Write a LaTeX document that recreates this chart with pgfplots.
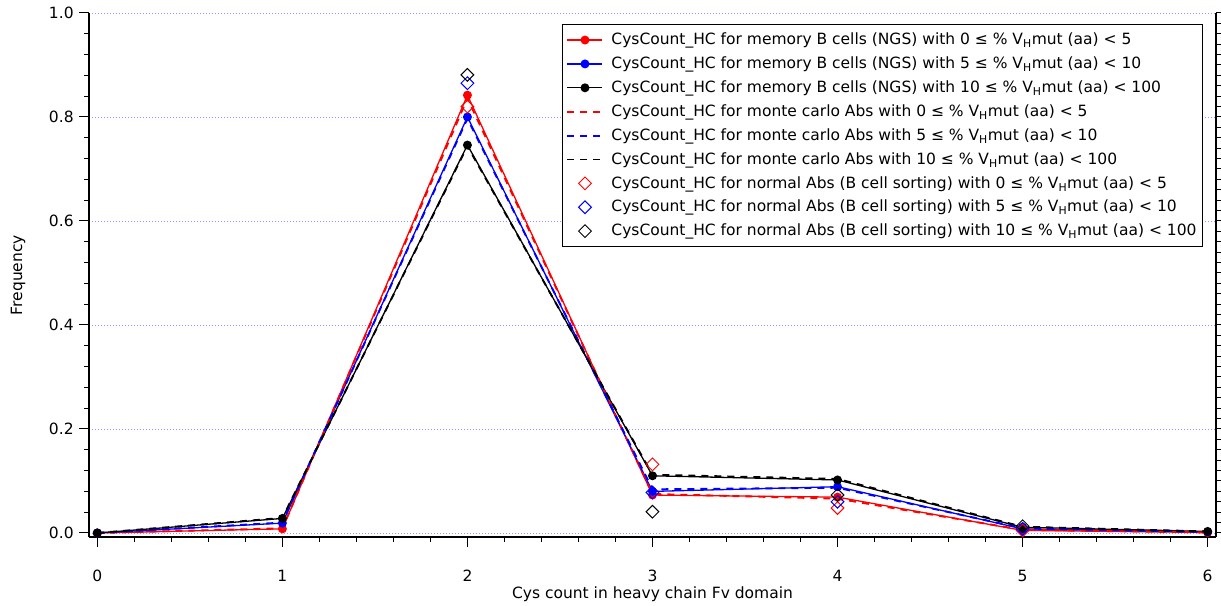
\documentclass[border=0pt]{standalone}
\usepackage{fontspec}
\setmainfont{DejaVu Sans}
\usepackage{pgfplots}
\pgfplotsset{compat=1.18}

\definecolor{gridblue}{RGB}{150,150,255}

\pgfplotsset{
  memline/.style={solid, line width=1.3bp, mark=*, mark size=3.8bp, mark options={solid}},
  mcline/.style={no markers, line width=1.9bp, dash pattern=on 7bp off 6bp},
  nabs/.style={only marks, mark=square, mark size=4.5bp, mark options={rotate=45, line width=1bp, fill=none}},
}

\begin{document}
\fontsize{15.5bp}{18bp}\selectfont
\begin{tikzpicture}
  \begin{axis}[
      at={(89bp,69bp)}, anchor=south west,
      scale only axis,
      width=1127bp, height=524bp,
      xmin=-0.045, xmax=6.045,
      ymin=-0.0077, ymax=1.0,
      axis x line*=bottom,
      axis y line*=left,
      axis line style={line width=1.2bp},
      tick align=outside,
      major tick length=10bp,
      minor tick length=5bp,
      every tick/.style={black, line width=1bp},
      xtick={0,1,2,3,4,5,6},
      minor x tick num=4,
      ytick={0,0.2,0.4,0.6,0.8,1.0},
      minor y tick num=4,
      yticklabel style={/pgf/number format/.cd, fixed, fixed zerofill, precision=1},
      xticklabel style={yshift=-18bp},
      /pgf/number format/assume math mode=true,
      ymajorgrids,
      major grid style={gridblue, line width=0.8bp, dash pattern=on 1bp off 2bp},
      xlabel={Cys count in heavy chain Fv domain},
      ylabel={Frequency},
      xlabel style={at={(axis description cs:0.5,-0.109)}, anchor=center},
      ylabel style={at={(axis description cs:-0.063,0.5)}, anchor=center},
      legend cell align=left,
      legend style={at={(axis description cs:0.9885,0.979)}, anchor=north east,
        draw=black, line width=1bp, fill=white,
        inner xsep=4bp, inner ysep=6.5bp, row sep=5.8bp, column sep=6bp,
        font=\fontsize{15.5bp}{18bp}\selectfont},
      legend image code/.code={\draw[mark repeat=2,mark phase=2,#1]
        plot coordinates {(0bp,0bp) (17.5bp,0bp) (35bp,0bp)};},
    ]
    % memory B cells (NGS)
    \addplot[color=red, memline] coordinates {
      (0,0) (1,0.008) (2,0.842) (3,0.073) (4,0.069) (5,0.005) (6,0.001)
    };
    \addlegendentry{CysCount\_HC for memory B cells (NGS) with 0 ≤ \% V\textsubscript{H}mut (aa) < 5}
    \addplot[color=blue, memline] coordinates {
      (0,0) (1,0.019) (2,0.800) (3,0.080) (4,0.089) (5,0.008) (6,0.002)
    };
    \addlegendentry{CysCount\_HC for memory B cells (NGS) with 5 ≤ \% V\textsubscript{H}mut (aa) < 10}
    \addplot[color=black, memline] coordinates {
      (0,0) (1,0.028) (2,0.746) (3,0.110) (4,0.102) (5,0.011) (6,0.003)
    };
    \addlegendentry{CysCount\_HC for memory B cells (NGS) with 10 ≤ \% V\textsubscript{H}mut (aa) < 100}
    % monte carlo Abs
    \addplot[color=red, mcline] coordinates {
      (0,0) (1,0.009) (2,0.836) (3,0.075) (4,0.066) (5,0.006) (6,0.001)
    };
    \addlegendentry{CysCount\_HC for monte carlo Abs with 0 ≤ \% V\textsubscript{H}mut (aa) < 5}
    \addplot[color=blue, mcline] coordinates {
      (0,0) (1,0.020) (2,0.797) (3,0.084) (4,0.087) (5,0.009) (6,0.002)
    };
    \addlegendentry{CysCount\_HC for monte carlo Abs with 5 ≤ \% V\textsubscript{H}mut (aa) < 10}
    \addplot[color=black, mcline] coordinates {
      (0,0) (1,0.029) (2,0.744) (3,0.112) (4,0.104) (5,0.012) (6,0.003)
    };
    \addlegendentry{CysCount\_HC for monte carlo Abs with 10 ≤ \% V\textsubscript{H}mut (aa) < 100}
    % normal Abs (B cell sorting)
    \addplot[color=red, nabs] coordinates {
      (2,0.820) (3,0.132) (4,0.048) (5,0.005)
    };
    \addlegendentry{CysCount\_HC for normal Abs (B cell sorting) with 0 ≤ \% V\textsubscript{H}mut (aa) < 5}
    \addplot[color=blue, nabs] coordinates {
      (2,0.865) (3,0.078) (4,0.060) (5,0.008)
    };
    \addlegendentry{CysCount\_HC for normal Abs (B cell sorting) with 5 ≤ \% V\textsubscript{H}mut (aa) < 10}
    \addplot[color=black, nabs] coordinates {
      (2,0.881) (3,0.041) (4,0.073) (5,0.013)
    };
    \addlegendentry{CysCount\_HC for normal Abs (B cell sorting) with 10 ≤ \% V\textsubscript{H}mut (aa) < 100}
  \end{axis}
  % right-hand axis: spine with ticks only
  \begin{axis}[
      at={(89bp,69bp)}, anchor=south west,
      scale only axis,
      width=1127bp, height=524bp,
      xmin=-0.045, xmax=6.045,
      ymin=-0.0077, ymax=1.0,
      axis x line=none,
      axis y line*=right,
      axis line style={line width=1.2bp},
      tick align=outside,
      major tick length=6bp,
      every tick/.style={black, line width=1bp},
      ytick distance=0.02,
      yticklabels={},
    ]
  \end{axis}
  \pgfresetboundingbox
  \useasboundingbox (0,0) rectangle (1221bp,606bp);
\end{tikzpicture}
\end{document}
